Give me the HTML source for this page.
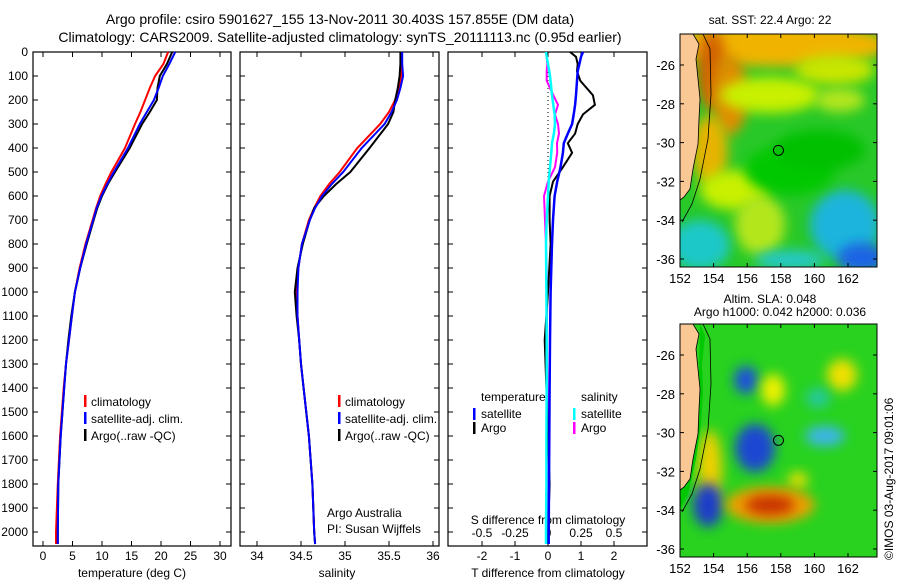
<!DOCTYPE html>
<html><head><meta charset="utf-8">
<style>
html,body{margin:0;padding:0;background:#fff;}
svg{display:block;font-family:"Liberation Sans",sans-serif;}
text{font-size:12px;fill:#000;}
</style></head>
<body>
<svg id="chart" width="900" height="580" viewBox="0 0 900 580" xmlns="http://www.w3.org/2000/svg">
<defs>
<filter id="blur6" x="-50%" y="-50%" width="200%" height="200%"><feGaussianBlur stdDeviation="6"/></filter>
<clipPath id="clipTop"><rect x="680" y="34" width="197" height="233"/></clipPath>
<clipPath id="clipBot"><rect x="680" y="324" width="197" height="233"/></clipPath>
</defs>
<text x="340" y="24" text-anchor="middle" style="font-size:14px">Argo profile: csiro 5901627_155 13-Nov-2011 30.403S 157.855E (DM data)</text>
<text x="340" y="42" text-anchor="middle" style="font-size:14px">Climatology: CARS2009. Satellite-adjusted climatology: synTS_20111113.nc (0.95d earlier)</text>
<g id="plots"></g>
<g id="maps"></g>
</svg>
<script>
// ---- data ----
const depthsT = [0,50,100,150,200,250,300,400,500,550,600,650,700,800,900,1000,1100,1200,1300,1400,1600,1800,2000,2050];
const tempClim = [21.2,20.4,19.0,18.1,17.3,16.5,15.6,13.9,11.6,10.6,9.7,9.0,8.4,7.2,6.2,5.4,4.9,4.4,3.9,3.5,2.9,2.5,2.2,2.2];
const tempSat  = [22.4,21.4,20.3,19.6,18.8,17.6,16.4,14.4,12.0,10.9,9.9,9.1,8.5,7.3,6.3,5.4,4.9,4.4,3.9,3.6,3.0,2.6,2.5,2.5];
const tempArgo = [21.9,21.0,19.8,19.4,19.3,18.1,16.8,14.7,12.2,11.0,10.0,9.2,8.6,7.4,6.3,5.4,4.8,4.3,3.9,3.6,3.0,2.6,2.5,2.5];
const salClim = [35.63,35.64,35.64,35.61,35.57,35.50,35.40,35.14,34.94,34.82,34.72,34.65,34.59,34.51,34.47,34.45,34.46,34.48,34.50,34.53,34.59,34.63,34.65,34.66];
const salSat  = [35.65,35.65,35.66,35.63,35.59,35.53,35.45,35.19,34.98,34.85,34.74,34.66,34.60,34.51,34.47,34.46,34.46,34.48,34.50,34.53,34.59,34.63,34.65,34.66];
const salArgo = [35.63,35.63,35.62,35.60,35.57,35.55,35.49,35.28,35.06,34.90,34.76,34.65,34.60,34.52,34.46,34.43,34.45,34.48,34.50,34.53,34.59,34.63,34.65,34.66];
const depthsD = [0,20,50,80,120,180,220,260,300,340,380,420,480,540,600,700,800,1000,1200,1400,1600,1800,2000,2050];
const dTSat  = [1.06,1.0,0.95,0.9,0.88,0.85,0.82,0.78,0.73,0.6,0.48,0.45,0.38,0.28,0.2,0.15,0.12,0.08,0.06,0.05,0.04,0.03,0.02,0.02];
const dTArgo = [0.67,0.85,0.9,0.88,0.98,1.36,1.42,1.06,0.9,0.82,0.6,0.73,0.45,0.15,0.05,0.05,0.08,0.0,-0.1,-0.05,0.0,0.05,0.0,0.0];
const dSSat  = [-0.015,-0.01,0.0,0.01,0.02,0.03,0.04,0.05,0.053,0.045,0.03,0.025,0.015,0.005,0.0,-0.01,-0.015,-0.012,-0.01,-0.01,-0.012,-0.012,-0.015,-0.015];
const dSArgo = [-0.015,-0.01,-0.005,-0.01,-0.01,0.04,0.076,0.053,0.076,0.083,0.068,0.07,0.053,0.0,-0.03,-0.023,-0.015,-0.005,-0.01,-0.005,0.0,-0.005,-0.005,-0.005];
const depthTicks = [0,100,200,300,400,500,600,700,800,900,1000,1100,1200,1300,1400,1500,1600,1700,1800,1900,2000];
const tempTicks = [0,5,10,15,20,25,30];
const salTicks = [34,34.5,35,35.5,36];
const salTickLabels = ["34","34.5","35","35.5","36"];
const dTTicks = [-2,-1,0,1,2];
const dSTicks = [-0.5,-0.25,0,0.25,0.5];
const dSTickLabels = ["-0.5","-0.25","0","0.25","0.5"];

const NS='http://www.w3.org/2000/svg';
const plots=document.getElementById('plots');
function el(tag,attrs,parent,txt){const e=document.createElementNS(NS,tag);for(const k in attrs)e.setAttribute(k,attrs[k]);if(txt!==undefined)e.textContent=txt;(parent||plots).appendChild(e);return e;}
const yD = d => 52 + d*0.24;
const xT = t => 43 + t*5.9;
const xS = s => 257 + (s-34)*88;
const xDT = v => 548 + v*33;
const xDS = v => 548 + v*132;
const TOP=52,BOT=546;

function frame(x0,x1,name){
  const r=el('rect',{x:x0,y:TOP,width:x1-x0,height:BOT-TOP,fill:'none',stroke:'#000','stroke-width':1.2});
  
  
  depthTicks.forEach(d=>{el('line',{x1:x0,x2:x0+5,y1:yD(d),y2:yD(d),stroke:'#000'});el('line',{x1:x1-5,x2:x1,y1:yD(d),y2:yD(d),stroke:'#000'});});
}
function xticks(ticks,labels,fx,x0,x1,yl,name){
  const g=el('g',{});
  
  
  ticks.forEach((t,i)=>{const x=fx(t);el('line',{x1:x,x2:x,y1:BOT,y2:BOT-5,stroke:'#000'},g);el('line',{x1:x,x2:x,y1:TOP,y2:TOP+5,stroke:'#000'},g);
    if(yl)el('text',{x:x,y:yl,'text-anchor':'middle'},g,labels[i]);});
}
function line(xs,ds,fx,color,w,name){
  const pts=xs.map((v,i)=>fx(v).toFixed(1)+','+yD(ds[i]).toFixed(1)).join(' ');
  const p=el('polyline',{points:pts,fill:'none',stroke:color,'stroke-width':w});
  
  
}
// panel 1
frame(33,231,'temperature-panel');
const yt=el('g',{});


depthTicks.forEach(d=>el('text',{x:28,y:yD(d)+4,'text-anchor':'end'},yt,String(d)));
xticks(tempTicks,tempTicks.map(String),xT,33,231,560,'temperature-x-ticks');
line(tempClim,depthsT,xT,'#f00',2,'temp-climatology-line');
line(tempArgo,depthsT,xT,'#000',2,'temp-argo-line');
line(tempSat,depthsT,xT,'#00f',2,'temp-satellite-line');
el('text',{x:132,y:577,'text-anchor':'middle'},plots,'temperature (deg C)');
// panel 2
frame(240,439,'salinity-panel');
xticks(salTicks,salTickLabels,xS,240,439,560,'salinity-x-ticks');
line(salClim,depthsT,xS,'#f00',2,'sal-climatology-line');
line(salArgo,depthsT,xS,'#000',2,'sal-argo-line');
line(salSat,depthsT,xS,'#00f',2,'sal-satellite-line');
el('text',{x:337,y:577,'text-anchor':'middle'},plots,'salinity');
el('text',{x:327,y:517},plots,'Argo Australia');
el('text',{x:327,y:533},plots,'PI: Susan Wijffels');
// legends
function legend(x,items,name){
  const g=el('g',{});
  
  
  items.forEach((it,i)=>{const y=402+i*17;el('rect',{x:x,y:y-7,width:2.5,height:12,fill:it[1]},g);el('text',{x:x+7,y:y+4},g,it[0]);});
}
legend(84,[['climatology','#f00'],['satellite-adj. clim.','#00f'],['Argo(..raw -QC)','#000']],'temperature-legend');
legend(338,[['climatology','#f00'],['satellite-adj. clim.','#00f'],['Argo(..raw -QC)','#000']],'salinity-legend');
// panel 3
frame(448,647,'difference-panel');
xticks(dTTicks,dTTicks.map(String),xDT,448,647,560,'t-diff-x-ticks');
dSTicks.forEach((t,i)=>el('text',{x:xDS(t),y:537,'text-anchor':'middle'},plots,dSTickLabels[i]));
el('text',{x:548,y:524,'text-anchor':'middle'},plots,'S difference from climatology');
el('text',{x:548,y:577,'text-anchor':'middle'},plots,'T difference from climatology');
el('line',{x1:548,x2:548,y1:TOP,y2:192,stroke:'#000','stroke-dasharray':'1,3'});
line(dSArgo,depthsD,xDS,'#f0f',2,'sdiff-argo-line');
line(dTArgo,depthsD,xDT,'#000',2,'tdiff-argo-line');
line(dTSat,depthsD,xDT,'#00f',2.5,'tdiff-satellite-line');
line(dSSat,depthsD,xDS,'#0ff',2.5,'sdiff-satellite-line');
const lg=el('g',{});


el('text',{x:481,y:401},lg,'temperature');
el('text',{x:581,y:401},lg,'salinity');
[['satellite','#00f',473],['Argo','#000',473]].forEach((it,i)=>{const y=414+i*14;el('rect',{x:it[2],y:y-6,width:2.5,height:12,fill:it[1]},lg);el('text',{x:it[2]+8,y:y+4},lg,it[0]);});
[['satellite','#0ff',573],['Argo','#f0f',573]].forEach((it,i)=>{const y=414+i*14;el('rect',{x:it[2],y:y-6,width:2.5,height:12,fill:it[1]},lg);el('text',{x:it[2]+8,y:y+4},lg,it[0]);});

// ---- maps ----
const maps=document.getElementById('maps');
const lonTicks=[152,154,156,158,160,162];
const latTicks=[-26,-28,-30,-32,-34,-36];
const xLon=l=>680+(l-152)*16.8;
function mapAxes(y0,y1,latY,name){
  const g=el('g',{},maps);
  
  
  el('rect',{x:680,y:y0,width:197,height:y1-y0,fill:'none',stroke:'#000'},g);
  lonTicks.forEach(l=>{const x=xLon(l);el('line',{x1:x,x2:x,y1:y0,y2:y0+4,stroke:'#000'},g);el('line',{x1:x,x2:x,y1:y1,y2:y1-4,stroke:'#000'},g);el('text',{x:x,y:y1+16,'text-anchor':'middle',style:'font-size:13px'},g,String(l));});
  latTicks.forEach(l=>{const y=latY(l);el('line',{x1:680,x2:684,y1:y,y2:y,stroke:'#000'},g);el('line',{x1:873,x2:877,y1:y,y2:y,stroke:'#000'},g);el('text',{x:675,y:y+5,'text-anchor':'end',style:'font-size:13px'},g,String(l));});
}
function blobs(clip,bg,list,name){
  const g=el('g',{'clip-path':'url(#'+clip+')'},maps);
  
  
  el('rect',{x:670,y:clip==='clipTop'?24:314,width:220,height:260,fill:bg},g);
  list.forEach(b=>el('ellipse',{cx:b[0],cy:b[1],rx:b[2],ry:b[3],fill:b[4],filter:'url(#blur6)'},g));
  return g;
}
function land(g,y0,strip){
  if(strip) el('path',{d:`M700 ${y0} L705 ${y0+12} L702 ${y0+40} L703 ${y0+70} L701 ${y0+100} L696 ${y0+135} L688 ${y0+170} L680 ${y0+185} L680 ${y0+166} L688 ${y0+158} L694 ${y0+130} L698 ${y0+100} Z`,fill:'#00c800'},g);
  el('path',{d:`M680 ${y0} L693 ${y0} L699 ${y0+10} L696 ${y0+25} L698 ${y0+45} L700 ${y0+65} L699 ${y0+85} L698 ${y0+110} L693 ${y0+135} L690 ${y0+155} L684 ${y0+163} L680 ${y0+166} Z`,fill:'#f9c894',stroke:'#000','stroke-width':0.8},g);
  el('path',{d:`M703 ${y0} L710 ${y0+15} L711 ${y0+60} L708 ${y0+105} L700 ${y0+145} L692 ${y0+170} L682 ${y0+188}`,fill:'none',stroke:'#000','stroke-width':0.8},g);
}
const latTop=l=>65+(-26-l)*19.4;
const latBot=l=>355+(-26-l)*19.4;
el('text',{x:770,y:24,'text-anchor':'middle'},maps,'sat. SST: 22.4  Argo: 22');
const gt=blobs('clipTop','#28c828',[
 [780,45,110,22,'#f0b400'],[835,70,40,15,'#c8e600'],[712,70,15,40,'#d26400'],[730,95,18,40,'#e08c00'],
 [770,95,50,18,'#c8f000'],[840,100,25,12,'#b4e61e'],[710,150,18,35,'#e6b400'],
 [735,190,35,20,'#c8f000'],[760,225,25,30,'#b4e61e'],[700,245,30,25,'#1ec8c8'],[845,225,35,35,'#1eb4dc'],
 [862,258,25,15,'#1e64e6'],[790,260,35,10,'#28c8c8'],[790,170,45,25,'#00c800'],[820,150,45,20,'#00c000']],'sst-map');
land(gt,34,false);
el('circle',{cx:xLon(157.86),cy:latTop(-30.4),r:5,fill:'none',stroke:'#000'},gt);
mapAxes(34,267,latTop,'sst-map-axes');
el('text',{x:770,y:303,'text-anchor':'middle'},maps,'Altim. SLA: 0.048');
el('text',{x:780,y:316,'text-anchor':'middle'},maps,'Argo h1000: 0.042 h2000: 0.036');
const gb=blobs('clipBot','#28d21e',[
 [746,380,12,14,'#1e50dc'],[773,390,12,16,'#f0f000'],[842,375,15,16,'#f0e000'],[798,480,10,8,'#f0e000'],
 [755,448,20,24,'#1e46d2'],[710,470,12,40,'#f0d000'],[708,505,15,22,'#1e3cc8'],
 [770,505,45,18,'#f0a000'],[770,505,25,10,'#c83200'],[825,436,20,10,'#3cb4f0'],[818,398,12,10,'#28c8a0']],'sla-map');
land(gb,324,true);
el('circle',{cx:xLon(157.86),cy:latBot(-30.4),r:5,fill:'none',stroke:'#000'},gb);
mapAxes(324,557,latBot,'sla-map-axes');
el('text',{x:0,y:0,transform:'translate(893,560) rotate(-90)',style:'font-size:12px'},maps,'©IMOS 03-Aug-2017 09:01:06');
</script>
</body></html>
